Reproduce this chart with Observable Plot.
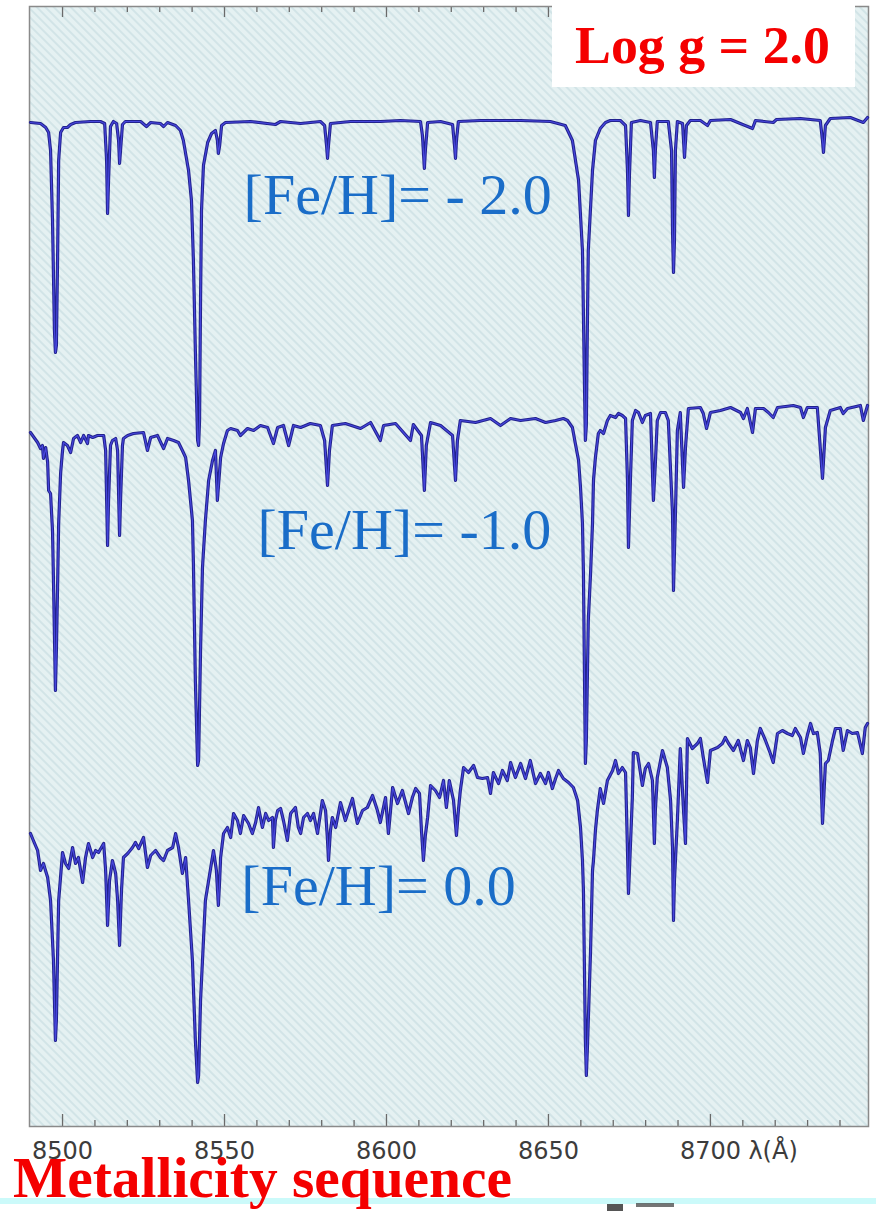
<!DOCTYPE html>
<html>
<head>
<meta charset="utf-8">
<script src="https://cdn.jsdelivr.net/npm/d3@7"></script>
<script src="https://cdn.jsdelivr.net/npm/@observablehq/plot@0.6"></script>
<style>
  html, body { margin: 0; padding: 0; background: #fff; }
  #chart { position: relative; width: 876px; height: 1211px; overflow: hidden; }
</style>
</head>
<body>
<div id="chart"></div>
<script>
// ---- Data: wavelength (Å), relative flux (with vertical offsets per spectrum) ----
const spectrumFehM2 = [
  [8490.1,10.04],[8493.2,10.03],[8494.8,9.99],[8495.7,9.94],[8496.3,9.76],[8496.9,9.06],[8497.5,7.96],[8497.8,7.74],
  [8498.1,7.81],[8498.5,8.76],[8498.8,9.66],[8499.4,9.94],[8500.3,9.99],[8501.5,9.99],[8502.5,10.02],[8504.0,10.04],
  [8508.6,10.05],[8511.7,10.05],[8513.0,10.03],[8513.6,9.66],[8513.9,9.13],[8514.2,9.46],[8514.8,10.00],[8515.7,10.05],
  [8516.7,10.03],[8517.3,9.86],[8517.6,9.63],[8517.9,9.76],[8518.5,10.02],[8519.4,10.05],[8524.1,10.05],[8525.9,10.00],
  [8527.2,10.04],[8530.2,10.03],[8531.2,10.00],[8532.4,10.04],[8534.9,10.01],[8536.4,9.96],[8537.3,9.86],[8538.9,9.56],
  [8539.8,9.26],[8540.4,8.66],[8541.0,7.76],[8541.7,6.86],[8542.0,6.81],[8542.3,7.06],[8542.6,8.26],[8542.9,9.16],
  [8543.5,9.61],[8544.8,9.84],[8546.0,9.93],[8547.2,9.96],[8547.8,9.86],[8548.1,9.73],[8548.5,9.81],[8549.1,10.01],
  [8550.3,10.04],[8558.0,10.05],[8565.7,10.02],[8567.3,10.05],[8573.5,10.03],[8579.6,10.05],[8580.9,10.01],[8581.5,9.81],
  [8581.8,9.68],[8582.1,9.81],[8582.7,10.03],[8588.9,10.05],[8598.1,10.05],[8604.3,10.06],[8610.5,10.05],[8611.1,9.91],
  [8611.7,9.58],[8612.0,9.76],[8612.7,10.04],[8616.7,10.05],[8620.4,10.02],[8621.0,9.81],[8621.3,9.68],[8621.6,9.86],
  [8622.2,10.05],[8629.0,10.06],[8641.4,10.06],[8650.6,10.05],[8655.2,10.01],[8657.4,9.86],[8659.3,9.46],[8660.5,8.76],
  [8661.1,7.46],[8661.4,6.86],[8661.7,7.01],[8662.0,7.96],[8662.3,8.76],[8663.6,9.56],[8664.5,9.86],[8666.0,9.98],
  [8667.6,10.04],[8669.1,10.06],[8672.2,10.06],[8673.8,10.01],[8674.4,9.56],[8674.7,9.11],[8675.0,9.51],[8675.6,10.04],
  [8678.4,10.06],[8681.5,10.04],[8682.4,9.76],[8682.7,9.49],[8683.0,9.76],[8683.6,10.05],[8687.0,10.05],[8688.0,9.76],
  [8688.3,8.96],[8688.6,8.54],[8688.9,8.86],[8689.2,9.76],[8689.8,10.05],[8691.4,10.03],[8692.0,9.69],[8692.6,10.01],
  [8693.8,10.06],[8696.9,10.06],[8699.1,10.01],[8700.0,10.06],[8706.2,10.07],[8713.0,9.98],[8713.9,10.06],[8719.4,10.04],
  [8720.4,10.07],[8727.8,10.08],[8733.9,10.06],[8734.6,9.86],[8734.9,9.74],[8735.5,10.01],[8737.0,10.08],[8743.2,10.09],
  [8747.2,10.04],[8748.5,10.09]
];
const spectrumFehM1 = [
  [8490.1,6.94],[8492.3,6.84],[8493.2,6.78],[8493.8,6.81],[8494.1,6.68],[8494.8,6.79],[8495.4,6.64],[8495.7,6.36],
  [8496.3,6.33],[8496.9,5.96],[8497.2,5.46],[8497.8,4.36],[8498.1,4.76],[8498.5,5.46],[8498.8,6.03],[8499.4,6.53],
  [8500.0,6.76],[8500.3,6.84],[8501.5,6.81],[8502.5,6.74],[8503.4,6.88],[8504.6,6.91],[8505.6,6.84],[8506.5,6.91],
  [8507.7,6.83],[8508.0,6.91],[8509.3,6.89],[8510.8,6.91],[8512.7,6.91],[8513.3,6.76],[8513.9,5.81],[8514.2,6.26],
  [8514.8,6.81],[8515.4,6.86],[8516.4,6.88],[8517.0,6.76],[8517.6,5.91],[8517.9,6.26],[8518.5,6.81],[8518.8,6.88],
  [8520.1,6.91],[8521.9,6.93],[8525.0,6.94],[8526.2,6.76],[8527.2,6.89],[8529.3,6.91],[8531.2,6.78],[8532.4,6.88],
  [8534.3,6.86],[8535.8,6.84],[8537.0,6.76],[8538.0,6.69],[8538.9,6.46],[8540.1,6.06],[8540.4,5.63],[8541.0,4.46],
  [8541.7,3.61],[8542.0,3.66],[8542.6,4.76],[8543.2,5.59],[8544.1,6.06],[8545.1,6.46],[8546.3,6.66],[8547.2,6.76],
  [8547.8,6.26],[8548.1,6.39],[8548.8,6.69],[8549.7,6.83],[8550.9,6.96],[8551.9,6.98],[8554.0,6.96],[8554.9,6.91],
  [8557.1,6.98],[8559.0,6.96],[8561.1,7.01],[8563.3,6.99],[8565.1,6.83],[8566.4,6.99],[8568.2,7.01],[8569.8,6.81],
  [8571.3,7.01],[8573.5,6.99],[8576.5,7.03],[8579.6,7.01],[8580.9,6.86],[8581.8,6.41],[8582.4,6.76],[8583.3,7.01],
  [8587.3,7.03],[8592.0,6.98],[8595.1,7.04],[8598.1,6.86],[8599.1,7.01],[8602.8,7.03],[8607.4,6.86],[8608.3,7.02],
  [8610.8,6.91],[8611.7,6.36],[8612.3,6.81],[8613.6,7.04],[8616.7,7.01],[8620.4,6.91],[8621.3,6.46],[8621.9,6.86],
  [8622.8,7.06],[8627.5,7.04],[8632.1,7.08],[8635.2,7.01],[8638.3,7.08],[8641.4,7.06],[8646.0,7.08],[8649.1,7.04],
  [8652.2,7.06],[8654.6,7.08],[8655.9,7.06],[8657.4,6.99],[8658.3,6.83],[8659.3,6.66],[8659.9,6.39],[8660.5,6.03],
  [8660.8,5.53],[8661.4,3.63],[8661.7,3.86],[8662.3,5.06],[8663.0,5.53],[8663.6,6.03],[8663.9,6.46],[8664.5,6.69],
  [8665.4,6.93],[8666.0,6.96],[8667.0,6.93],[8668.2,7.06],[8669.1,7.11],[8670.7,7.09],[8671.6,7.13],[8672.8,7.11],
  [8673.8,7.08],[8674.4,6.46],[8674.7,5.79],[8675.3,6.46],[8675.9,7.06],[8676.9,7.16],[8677.8,7.14],[8679.0,7.04],
  [8679.9,7.11],[8681.5,7.13],[8682.4,6.26],[8683.0,6.63],[8683.6,7.06],[8684.6,7.14],[8686.1,7.14],[8687.0,7.06],
  [8688.3,6.13],[8688.6,5.36],[8689.2,6.13],[8689.8,6.96],[8690.7,7.14],[8691.7,6.39],[8692.3,6.79],[8693.2,7.18],
  [8696.9,7.19],[8697.8,7.13],[8698.8,6.98],[8700.0,7.14],[8703.1,7.16],[8706.2,7.19],[8709.3,7.14],[8710.2,7.08],
  [8711.4,7.18],[8713.0,6.94],[8713.9,7.18],[8716.4,7.18],[8717.9,7.14],[8719.4,7.09],[8720.7,7.19],[8725.6,7.21],
  [8727.8,7.19],[8728.7,7.09],[8729.9,7.19],[8733.0,7.19],[8734.6,6.48],[8735.5,6.99],[8737.0,7.16],[8740.1,7.19],
  [8741.0,7.13],[8742.3,7.18],[8746.3,7.21],[8747.2,7.06],[8748.5,7.21]
];
const spectrumFeh0 = [
  [8490.1,2.93],[8491.0,2.86],[8492.3,2.76],[8493.2,2.56],[8494.1,2.63],[8495.4,2.49],[8496.3,2.26],[8497.2,1.66],
  [8497.8,0.86],[8498.1,1.06],[8498.5,1.76],[8498.8,2.26],[8500.0,2.74],[8500.9,2.63],[8501.9,2.58],[8503.1,2.79],
  [8504.0,2.63],[8504.9,2.69],[8506.2,2.44],[8507.1,2.69],[8508.0,2.83],[8509.3,2.69],[8510.2,2.76],[8511.1,2.74],
  [8512.7,2.83],[8513.3,2.56],[8513.9,2.01],[8514.5,2.46],[8515.4,2.66],[8516.4,2.53],[8517.0,2.26],[8517.6,1.81],
  [8518.2,2.36],[8518.8,2.69],[8520.1,2.73],[8521.6,2.79],[8522.5,2.84],[8523.5,2.78],[8525.0,2.89],[8526.2,2.59],
  [8527.2,2.71],[8528.7,2.76],[8530.2,2.69],[8531.2,2.66],[8532.4,2.76],[8534.0,2.79],[8534.9,2.93],[8535.8,2.79],
  [8537.0,2.53],[8538.0,2.69],[8538.9,2.26],[8540.1,1.66],[8541.0,0.86],[8541.7,0.44],[8542.0,0.51],[8542.6,1.26],
  [8543.5,1.86],[8544.1,2.26],[8545.1,2.46],[8546.6,2.76],[8547.5,2.56],[8548.1,2.21],[8548.5,2.46],[8548.8,2.69],
  [8549.7,2.93],[8550.9,2.99],[8551.9,2.89],[8552.8,3.13],[8554.0,3.06],[8554.9,2.93],[8555.9,3.11],[8557.4,3.03],
  [8558.6,2.93],[8559.6,3.04],[8560.5,3.19],[8561.7,2.99],[8562.7,3.13],[8563.6,3.06],[8564.8,3.09],[8565.1,2.79],
  [8565.7,3.06],[8566.4,3.16],[8567.3,3.18],[8568.2,3.06],[8569.4,2.86],[8570.4,3.13],[8571.9,3.19],[8572.8,2.99],
  [8573.5,2.93],[8574.4,3.09],[8575.6,3.13],[8576.5,3.06],[8577.5,3.13],[8578.7,2.93],[8580.2,3.26],[8581.2,3.16],
  [8581.8,2.86],[8582.1,2.66],[8582.7,2.96],[8583.3,3.09],[8584.3,2.99],[8585.8,3.24],[8587.3,3.06],[8589.5,3.28],
  [8591.0,3.03],[8592.6,3.16],[8594.1,3.19],[8595.7,3.31],[8597.2,3.16],[8598.1,3.04],[8599.7,3.29],[8600.6,2.93],
  [8601.9,3.39],[8603.4,3.23],[8604.9,3.36],[8606.8,3.13],[8608.0,3.29],[8609.0,3.38],[8610.2,3.33],[8610.8,2.96],
  [8611.4,2.66],[8612.0,2.91],[8612.7,3.09],[8613.6,3.41],[8615.1,3.36],[8616.4,3.29],[8617.6,3.46],[8618.5,3.19],
  [8619.4,3.46],[8620.7,3.26],[8621.6,2.91],[8622.2,3.16],[8622.8,3.36],[8623.8,3.59],[8625.3,3.54],[8626.9,3.61],
  [8628.1,3.49],[8629.6,3.48],[8631.2,3.49],[8632.1,3.33],[8633.0,3.54],[8634.6,3.43],[8635.8,3.56],[8637.3,3.46],
  [8638.3,3.64],[8639.8,3.49],[8641.4,3.63],[8642.9,3.48],[8644.4,3.66],[8646.0,3.43],[8647.5,3.53],[8649.1,3.43],
  [8650.0,3.54],[8651.2,3.38],[8652.2,3.48],[8653.1,3.56],[8654.6,3.48],[8656.2,3.44],[8657.7,3.39],[8659.0,3.26],
  [8659.9,2.99],[8660.5,2.66],[8660.8,2.36],[8661.4,0.86],[8661.7,0.51],[8662.0,0.76],[8663.0,1.76],[8663.6,2.56],
  [8663.9,2.66],[8664.5,2.96],[8665.1,3.16],[8666.0,3.38],[8667.0,3.23],[8668.2,3.46],[8669.8,3.56],[8670.7,3.66],
  [8671.6,3.53],[8672.8,3.59],[8673.8,3.54],[8674.4,2.76],[8674.7,2.33],[8675.0,2.56],[8675.9,3.29],[8676.2,3.74],
  [8677.5,3.73],[8679.0,3.41],[8679.9,3.58],[8680.9,3.63],[8682.1,3.46],[8682.7,2.83],[8683.0,3.16],[8683.6,3.49],
  [8685.2,3.76],[8686.7,3.59],[8687.7,3.26],[8688.3,2.79],[8688.6,2.06],[8688.9,2.46],[8689.8,3.06],[8690.7,3.78],
  [8691.7,3.16],[8692.3,2.83],[8692.9,3.88],[8694.4,3.78],[8696.0,3.83],[8696.9,3.88],[8697.8,3.69],[8699.1,3.44],
  [8700.0,3.76],[8702.2,3.79],[8703.7,3.83],[8704.6,3.89],[8705.6,3.83],[8707.1,3.76],[8708.6,3.86],[8710.2,3.66],
  [8711.4,3.86],[8712.3,3.79],[8713.3,3.53],[8714.5,3.86],[8715.4,3.98],[8717.0,3.86],[8718.5,3.73],[8719.4,3.64],
  [8720.7,3.93],[8722.2,3.96],[8723.8,3.93],[8725.3,3.91],[8726.2,3.98],[8727.8,3.89],[8728.7,3.73],[8729.9,3.91],
  [8730.9,4.03],[8731.8,3.93],[8733.0,3.94],[8733.9,3.73],[8734.6,3.03],[8735.5,3.63],[8736.4,3.66],[8737.7,3.86],
  [8738.6,3.98],[8740.1,3.98],[8741.0,3.76],[8742.3,3.96],[8743.8,3.93],[8745.4,3.94],[8746.9,3.73],[8747.8,3.99],
  [8748.5,4.03]
];
const seriesNames = ["[Fe/H]= - 2.0", "[Fe/H]= -1.0", "[Fe/H]= 0.0"];
const labelWavelengths = [8555.9, 8560.2, 8555.2];
const labelFlux = [9.31, 5.96, 2.40];
const majorTicks = [8500, 8550, 8600, 8650, 8700];
const minorTicks = [8510, 8520, 8530, 8540, 8560, 8570, 8580, 8590, 8610, 8620, 8630, 8640,
                    8660, 8670, 8680, 8690, 8710, 8720, 8730, 8740];
const axisUnit = "λ(Å)";
const gravityLabel = "Log g = 2.0";
const titleText = "Metallicity sequence";

// ---- Build table ----
const spectra = [spectrumFehM2, spectrumFehM1, spectrumFeh0];
const rows = spectra.flatMap((s, i) => s.map(([w, f]) => ({series: seriesNames[i], w, f})));
const labels = seriesNames.map((name, i) => ({name, w: labelWavelengths[i], f: labelFlux[i]}));

const W = 876, H = 1211;
const mTop = 6, mBottom = 85, mLeft = 29, mRight = 8;
const frameH = H - mTop - mBottom;

const svg = Plot.plot({
  width: W,
  height: H,
  marginTop: mTop,
  marginBottom: mBottom,
  marginLeft: mLeft,
  marginRight: mRight,
  style: {background: "transparent", overflow: "visible"},
  x: {domain: [8489.8, 8748.8], label: null, axis: null},
  y: {domain: [0, 11.2], axis: null},
  marks: [
    Plot.frame({fill: "url(#hatch)", stroke: "none"}),
    // ticks bottom (pointing inward)
    Plot.tickX(majorTicks, {x: d => d, insetTop: frameH - 12, stroke: "#6a6a6a", strokeWidth: 1.3}),
    Plot.tickX(minorTicks, {x: d => d, insetTop: frameH - 6, stroke: "#6a6a6a", strokeWidth: 1.3}),
    // ticks top (pointing inward)
    Plot.tickX(majorTicks, {x: d => d, insetBottom: frameH - 11, stroke: "#6a6a6a", strokeWidth: 1.3}),
    Plot.tickX(minorTicks, {x: d => d, insetBottom: frameH - 6, stroke: "#6a6a6a", strokeWidth: 1.3}),
    Plot.frame({stroke: "#8a8a8a", strokeWidth: 1.5}),
    // spectra: dark outline + brighter core
    Plot.line(rows, {x: "w", y: "f", z: "series", stroke: "#22228e", strokeWidth: 3.2, strokeLinejoin: "round", curve: "linear"}),
    Plot.line(rows, {x: "w", y: "f", z: "series", stroke: "#4646dc", strokeWidth: 1.2, strokeLinejoin: "round", curve: "linear"}),
    // axis tick labels
    Plot.text(majorTicks, {x: d => d, frameAnchor: "bottom", dy: 15, lineAnchor: "top", textAnchor: "middle",
      text: d => String(d), fontSize: 24, fontFamily: "DejaVu Sans", fill: "#3c3c3c"}),
    Plot.text([8700], {x: d => d, frameAnchor: "bottom", dy: 15, dx: 38, lineAnchor: "top",
      textAnchor: "start", text: () => axisUnit, fontSize: 24, fontFamily: "DejaVu Sans", fill: "#3c3c3c"}),
    // metallicity labels
    Plot.text(labels, {x: "w", y: "f", text: "name", textAnchor: "start", lineAnchor: "middle",
      fontSize: 58, fontFamily: "Liberation Serif", fill: "#1a6dc8"})
  ]
});

// hatch pattern for the plot background
const s = d3.select(svg);
const defs = s.insert("defs", ":first-child");
const pat = defs.append("pattern").attr("id", "hatch").attr("patternUnits", "userSpaceOnUse")
  .attr("width", 6).attr("height", 6).attr("patternTransform", "rotate(45)");
pat.append("rect").attr("width", 6).attr("height", 6).attr("fill", "#e5f1f2");
pat.append("line").attr("x1", 0).attr("x2", 6).attr("y1", 3).attr("y2", 3)
  .attr("stroke", "#d2e4e7").attr("stroke-width", 2);

// annotation box "Log g = 2.0"
s.append("rect").attr("x", 552).attr("y", 0).attr("width", 303).attr("height", 87).attr("fill", "#ffffff");
s.append("text").attr("x", 575).attr("y", 63).attr("text-anchor", "start").attr("font-family", "Liberation Serif")
  .attr("font-weight", "bold").attr("font-size", 53).attr("fill", "#f40000")
  .attr("textLength", 255).attr("lengthAdjust", "spacingAndGlyphs").text(gravityLabel);

// bottom cyan band + title
s.append("rect").attr("x", 0).attr("y", 1198).attr("width", W).attr("height", 6).attr("fill", "#cbfafa");
s.append("rect").attr("x", 607).attr("y", 1204).attr("width", 16).attr("height", 7).attr("fill", "#2a2a2a").attr("opacity", 0.8);
s.append("rect").attr("x", 636).attr("y", 1203).attr("width", 38).attr("height", 4).attr("fill", "#3a3a3a").attr("opacity", 0.7);
s.append("text").attr("x", 13).attr("y", 1197).attr("text-anchor", "start").attr("font-family", "Liberation Serif")
  .attr("font-weight", "bold").attr("font-size", 56).attr("fill", "#f40000")
  .attr("textLength", 499).attr("lengthAdjust", "spacingAndGlyphs").text(titleText);

document.getElementById("chart").appendChild(svg);
</script>
</body>
</html>
